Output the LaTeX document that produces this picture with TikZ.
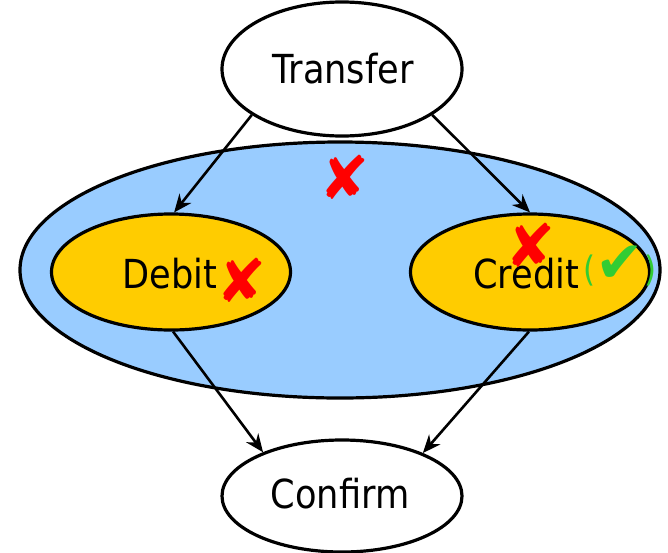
\documentclass[tikz,border=0pt]{standalone}
\usepackage{fontspec}
\setmainfont{DejaVu Sans}[FakeStretch=0.88]
\newfontfamily\symfont{DejaVu Sans}
\usetikzlibrary{arrows.meta,shapes.geometric}
\definecolor{outerblue}{HTML}{99CCFF}
\definecolor{stepgold}{HTML}{FFCC00}
\definecolor{failred}{HTML}{FF0000}
\definecolor{okgreen}{HTML}{33CC33}
\begin{document}
\begin{tikzpicture}[x=1pt,y=-1pt,
  oval/.style={draw=black,line width=3.2pt,ellipse,inner sep=0pt,minimum width=#1},
  wnode/.style={oval=240pt,fill=white,minimum height=134pt},
  gnode/.style={oval=239pt,fill=stepgold,minimum height=116pt},
  lbl/.style={anchor=base,inner sep=0pt,font=\fontsize{40}{40}\selectfont},
  link/.style={-{Stealth[length=18pt,width=15pt]},line width=2.6pt},
  cross/.style={text=failred,font=\symfont\fontsize{60}{60}\selectfont,inner sep=0pt},
]
\useasboundingbox (0,0) rectangle (668,552);
% enclosing transaction scope
\node[oval=640pt,fill=outerblue,minimum height=256pt] (scope) at (340,270) {};
\node[wnode] (transfer) at (342,69) {};
\node[gnode] (debit) at (171,272) {};
\node[gnode] (credit) at (530,272) {};
\node[wnode,minimum height=112pt] (confirm) at (342,496) {};
% step names
\node[lbl] (transfertext) at (343,83) {Transfer};
\node[lbl] (debittext) at (170,288) {Debit};
\node[lbl] (credittext) at (526,288) {Credit};
\node[lbl] (confirmtext) at (340,508) {Confirm};
% failure / success marks
\node[cross] (xscope) at (345,177) {✘};
\node[cross] (xdebit) at (242,280) {✘};
\node[cross] (xcredit) at (531,245) {✘};
\node[text=okgreen,inner sep=0pt] (ok) at (620,266)
  {\fontsize{35}{35}\selectfont(\raisebox{-1pt}{\symfont\fontsize{58}{58}\selectfont ✔})};
% control flow
\draw[link] (transfer.207) -- (debit.87);
\draw[link] (transfer.333) -- (credit.90);
\draw[link] (debit.272) -- (confirm.151);
\draw[link] (credit.269) -- (confirm.28);
\end{tikzpicture}
\end{document}
